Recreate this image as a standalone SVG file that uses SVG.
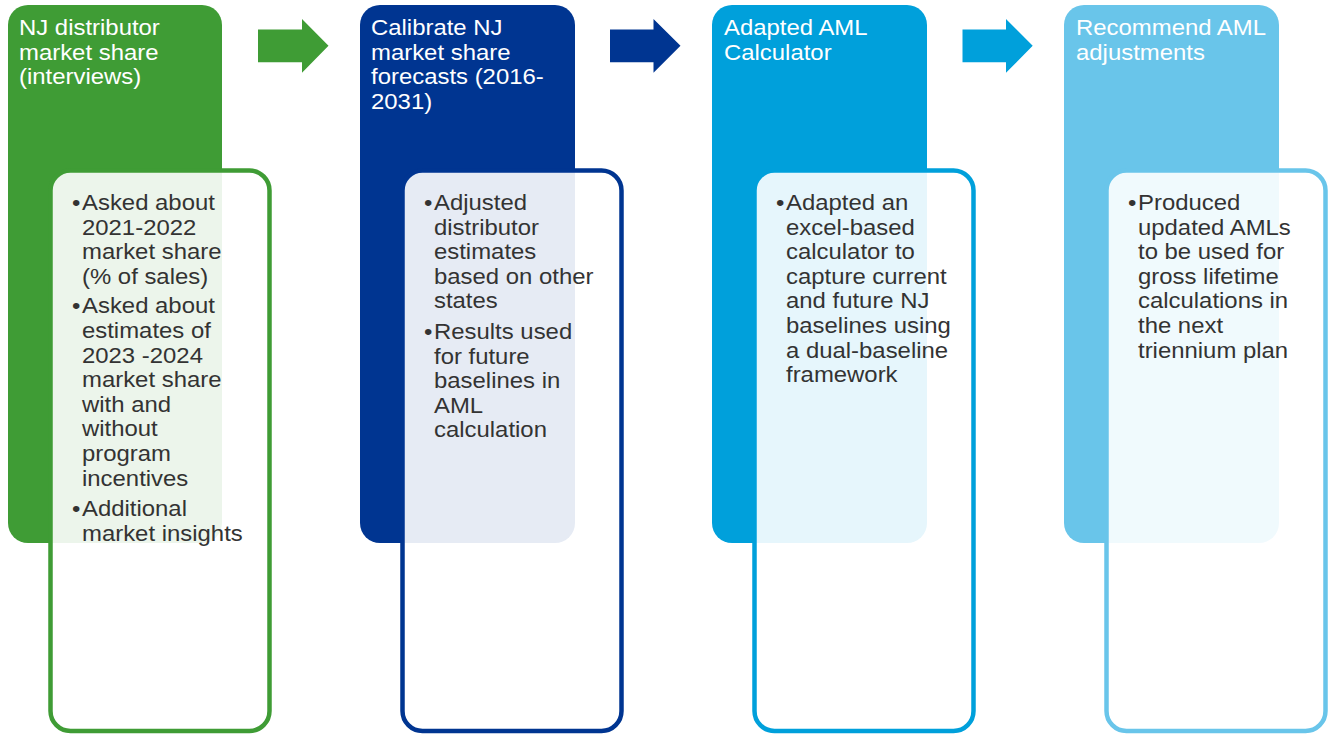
<svg xmlns="http://www.w3.org/2000/svg" width="1331" height="734" viewBox="0 0 1331 734">
  <style>
    .hdr { font-family: "Liberation Sans", Arial, sans-serif; font-size: 22px; fill: #ffffff; }
    .body { font-family: "Liberation Sans", Arial, sans-serif; font-size: 22px; fill: #333333; }
    .card { fill: #ffffff; fill-opacity: 0.9; stroke-width: 4.5; }
    .green { fill: #3f9c35; }
    .navy { fill: #003591; }
    .cyan { fill: #00a0db; }
    .sky { fill: #69c5ea; }
  </style>

  <!-- step arrows -->
  <g id="connectors">
    <polygon class="green" points="258,29.5 302,29.5 302,19 328.5,45.8 302,72.8 302,62.3 258,62.3"/>
    <polygon class="navy" points="610,29.5 653.5,29.5 653.5,19 680.5,45.8 653.5,72.8 653.5,62.3 610,62.3"/>
    <polygon class="cyan" points="962.5,29.5 1006,29.5 1006,19 1032.7,45.8 1006,72.8 1006,62.3 962.5,62.3"/>
  </g>

  <!-- step 1 -->
  <g id="step1">
    <rect class="green" x="8" y="5" width="214" height="538" rx="20" ry="20"/>
    <g class="hdr" transform="translate(19,0) scale(1.087,1)">
      <text x="0" y="35">NJ distributor</text>
      <text x="0" y="59.6">market share</text>
      <text x="0" y="84.2">(interviews)</text>
    </g>
    <rect class="card" x="50.5" y="170.5" width="219" height="560.5" rx="20" ry="20" stroke="#3f9c35"/>
    <g class="body" transform="translate(72,0) scale(1.087,1)">
      <text x="0" y="210">•</text>
      <text x="9.2" y="210">Asked about</text>
      <text x="9.2" y="234.6">2021-2022</text>
      <text x="9.2" y="259.2">market share</text>
      <text x="9.2" y="283.8">(% of sales)</text>
      <text x="0" y="313.5">•</text>
      <text x="9.2" y="313.5">Asked about</text>
      <text x="9.2" y="338.1">estimates of</text>
      <text x="9.2" y="362.7">2023 -2024</text>
      <text x="9.2" y="387.3">market share</text>
      <text x="9.2" y="411.9">with and</text>
      <text x="9.2" y="436.5">without</text>
      <text x="9.2" y="461.1">program</text>
      <text x="9.2" y="485.7">incentives</text>
      <text x="0" y="516">•</text>
      <text x="9.2" y="516">Additional</text>
      <text x="9.2" y="540.6">market insights</text>
    </g>
  </g>

  <!-- step 2 -->
  <g id="step2">
    <rect class="navy" x="360" y="5" width="215" height="538" rx="20" ry="20"/>
    <g class="hdr" transform="translate(371,0) scale(1.087,1)">
      <text x="0" y="35">Calibrate NJ</text>
      <text x="0" y="59.6">market share</text>
      <text x="0" y="84.2">forecasts (2016-</text>
      <text x="0" y="108.8">2031)</text>
    </g>
    <rect class="card" x="402.5" y="170.5" width="219" height="560.5" rx="20" ry="20" stroke="#003591"/>
    <g class="body" transform="translate(424,0) scale(1.087,1)">
      <text x="0" y="210">•</text>
      <text x="9.2" y="210">Adjusted</text>
      <text x="9.2" y="234.6">distributor</text>
      <text x="9.2" y="259.2">estimates</text>
      <text x="9.2" y="283.8">based on other</text>
      <text x="9.2" y="308.4">states</text>
      <text x="0" y="339">•</text>
      <text x="9.2" y="339">Results used</text>
      <text x="9.2" y="363.6">for future</text>
      <text x="9.2" y="388.2">baselines in</text>
      <text x="9.2" y="412.8">AML</text>
      <text x="9.2" y="437.4">calculation</text>
    </g>
  </g>

  <!-- step 3 -->
  <g id="step3">
    <rect class="cyan" x="712" y="5" width="215" height="538" rx="20" ry="20"/>
    <g class="hdr" transform="translate(724,0) scale(1.087,1)">
      <text x="0" y="35">Adapted AML</text>
      <text x="0" y="59.6">Calculator</text>
    </g>
    <rect class="card" x="754.5" y="170.5" width="219" height="560.5" rx="20" ry="20" stroke="#00a0db"/>
    <g class="body" transform="translate(776,0) scale(1.087,1)">
      <text x="0" y="210">•</text>
      <text x="9.2" y="210">Adapted an</text>
      <text x="9.2" y="234.6">excel-based</text>
      <text x="9.2" y="259.2">calculator to</text>
      <text x="9.2" y="283.8">capture current</text>
      <text x="9.2" y="308.4">and future NJ</text>
      <text x="9.2" y="333">baselines using</text>
      <text x="9.2" y="357.6">a dual-baseline</text>
      <text x="9.2" y="382.2">framework</text>
    </g>
  </g>

  <!-- step 4 -->
  <g id="step4">
    <rect class="sky" x="1064" y="5" width="215" height="538" rx="20" ry="20"/>
    <g class="hdr" transform="translate(1076,0) scale(1.087,1)">
      <text x="0" y="35">Recommend AML</text>
      <text x="0" y="59.6">adjustments</text>
    </g>
    <rect class="card" x="1106.5" y="170.5" width="219" height="560.5" rx="20" ry="20" stroke="#69c5ea"/>
    <g class="body" transform="translate(1128,0) scale(1.087,1)">
      <text x="0" y="210">•</text>
      <text x="9.2" y="210">Produced</text>
      <text x="9.2" y="234.6">updated AMLs</text>
      <text x="9.2" y="259.2">to be used for</text>
      <text x="9.2" y="283.8">gross lifetime</text>
      <text x="9.2" y="308.4">calculations in</text>
      <text x="9.2" y="333">the next</text>
      <text x="9.2" y="357.6">triennium plan</text>
    </g>
  </g>
</svg>
